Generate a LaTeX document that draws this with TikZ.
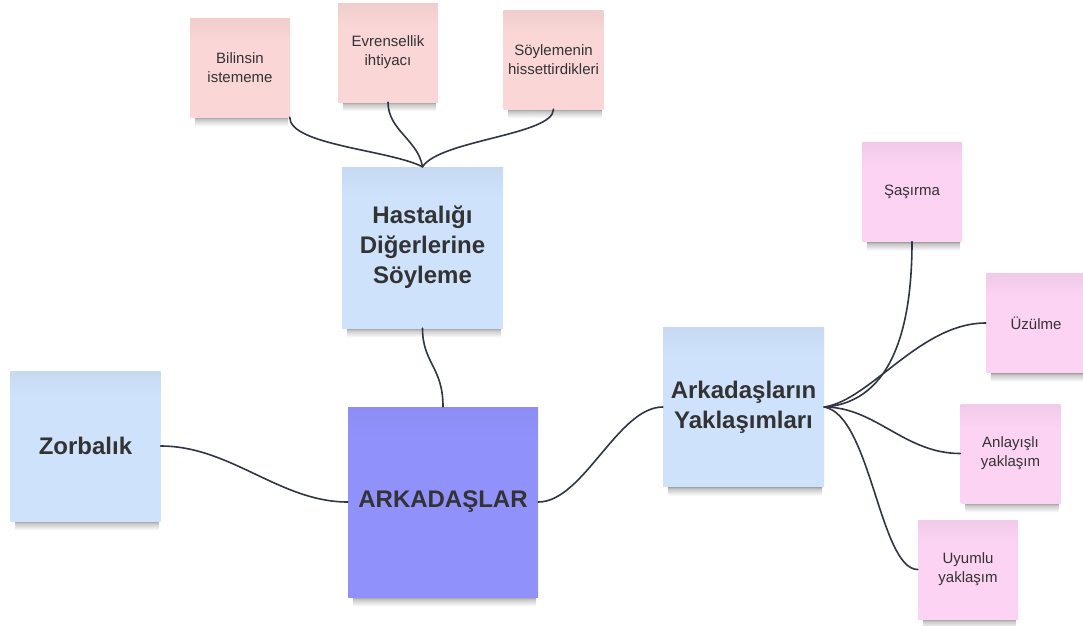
\documentclass[tikz,border=0pt]{standalone}
\usepackage{fontspec}
\setmainfont{Liberation Sans}
\usetikzlibrary{calc}

\pgfdeclarelayer{background}
\pgfsetlayers{background,main}

\definecolor{salmonnote}{HTML}{FAD6D6}
\definecolor{bluenote}{HTML}{CFE2FC}
\definecolor{purplenote}{HTML}{9191FC}
\definecolor{magentanote}{HTML}{FCD3F3}
\definecolor{textgray}{HTML}{333333}
\definecolor{linegray}{HTML}{2F3542}

% note fills: flat colour with a slightly darker band at the top
% (the path covers 25bp..75bp of the shading)
\pgfdeclareverticalshading{shsalmon}{100bp}{color(0bp)=(salmonnote); color(63bp)=(salmonnote); color(75bp)=(salmonnote!96!black); color(100bp)=(salmonnote!96!black)}
\pgfdeclareverticalshading{shblue}{100bp}{color(0bp)=(bluenote); color(66bp)=(bluenote); color(75bp)=(bluenote!96!black); color(100bp)=(bluenote!96!black)}
\pgfdeclareverticalshading{shpurple}{100bp}{color(0bp)=(purplenote); color(67bp)=(purplenote); color(75bp)=(purplenote!97!black); color(100bp)=(purplenote!97!black)}
\pgfdeclareverticalshading{shmagenta}{100bp}{color(0bp)=(magentanote); color(63bp)=(magentanote); color(75bp)=(magentanote!96!black); color(100bp)=(magentanote!96!black)}

% soft shadow below a note: grey fading to white
\pgfdeclareverticalshading{shshadow}{100bp}{color(0bp)=(white); color(25bp)=(white); color(60bp)=(black!22); color(75bp)=(black!48); color(100bp)=(black!48)}

\tikzset{
  sticky/.style={inner sep=0pt, align=center, text=textgray},
  stickysmall/.style={sticky, minimum width=100pt, minimum height=99pt,
    font=\fontsize{15}{19}\selectfont},
  stickybig/.style={sticky, font=\fontsize{24}{30}\selectfont\bfseries},
  conn/.style={draw=linegray, line width=1.6pt, line cap=round},
}

\begin{document}
\begin{tikzpicture}[x=1pt, y=-1pt]
\useasboundingbox (0,0) rectangle (1083,625);

% main topic
\node[stickybig, shading=shpurple, minimum width=190pt, minimum height=190pt] (ark) at (443,502) {ARKADAŞLAR};

% sub topics
\node[stickybig, shading=shblue, minimum width=161pt, minimum height=161pt] (hast) at (422.5,247.5) {Hastalığı\\Diğerlerine\\Söyleme};
\node[stickybig, shading=shblue, minimum width=150pt, minimum height=150pt] (zor) at (85.5,446) {Zorbalık};
\node[stickybig, shading=shblue, minimum width=161pt, minimum height=159pt] (yak) at (743.5,407) {Arkadaşların\\Yaklaşımları};

% notes above the first sub topic
\node[stickysmall, shading=shsalmon] (bil) at (240,67.5) {Bilinsin\\istememe};
\node[stickysmall, shading=shsalmon] (evr) at (388,52.5) {Evrensellik\\ihtiyacı};
\node[stickysmall, shading=shsalmon] (soy) at (553.5,59.5) {Söylemenin\\hissettirdikleri};

% notes around the reactions topic
\node[stickysmall, shading=shmagenta] (sas) at (912,192) {Şaşırma};
\node[stickysmall, shading=shmagenta] (uzu) at (1036,323) {Üzülme};
\node[stickysmall, shading=shmagenta] (anl) at (1010.5,453.5) {Anlayışlı\\yaklaşım};
\node[stickysmall, shading=shmagenta] (uyu) at (968,569.5) {Uyumlu\\yaklaşım};

% soft shadows under the notes
\begin{pgfonlayer}{background}
\foreach \n in {ark,hast,zor,yak,bil,evr,soy,sas,uzu,anl,uyu}{
  \shade[shading=shshadow] ($(\n.south west)+(5,-1)$) rectangle ($(\n.south east)+(-2,9)$);
}
\end{pgfonlayer}

% connectors
\draw[conn] ([xshift=-0.5pt]bil.south east) .. controls +(0,28) and +(-33,-17) .. (hast.north);
\draw[conn] (evr.south) .. controls +(0,28) and +(-4.5,-27) .. (hast.north);
\draw[conn] (soy.south) .. controls +(0,26) and +(17.5,-27) .. (hast.north);
\draw[conn] (hast.south) .. controls +(0,35) and +(0,-40) .. (ark.north);
\draw[conn] (zor.east) .. controls +(70,0) and +(-68,0) .. (ark.west);
\draw[conn] (ark.east) .. controls +(45,0) and +(-45,0) .. (yak.west);
\draw[conn] (yak.east) .. controls +(71.5,-5) and +(0,78) .. (sas.south);
\draw[conn] (yak.east) .. controls +(46.5,-7) and +(-66,0) .. (uzu.west);
\draw[conn] (yak.east) .. controls +(51.5,0) and +(-56,0) .. (anl.west);
\draw[conn] (yak.east) .. controls +(46.5,8) and +(-38,0) .. (uyu.west);
\end{tikzpicture}
\end{document}
